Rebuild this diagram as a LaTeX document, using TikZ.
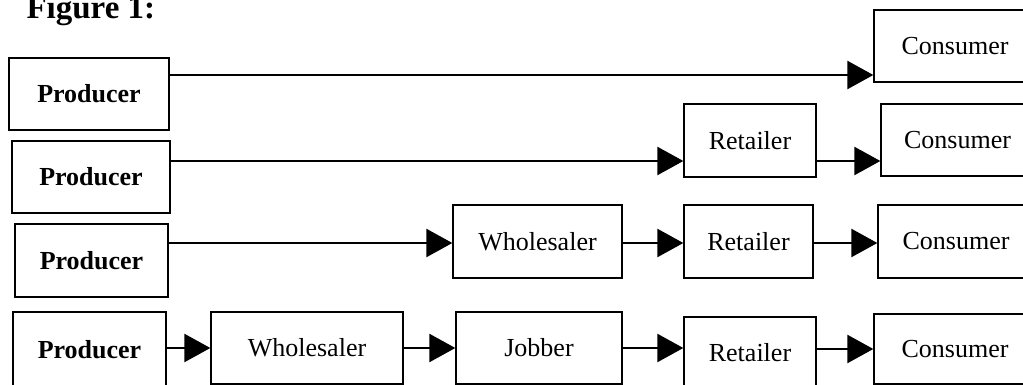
\documentclass[tikz,border=0pt]{standalone}
\usepackage{fontspec}
\setmainfont{Liberation Serif}
\usetikzlibrary{arrows.meta}
\begin{document}
\begin{tikzpicture}[x=1pt,y=-1pt,
  boxnode/.style={draw=black,line width=1.3pt,rectangle,inner sep=0pt,
    font=\fontsize{26}{30}\selectfont},
  prodnode/.style={boxnode,font=\fontsize{26}{30}\selectfont\bfseries},
  arr/.style={line width=2.4pt,-{Triangle[length=26pt,width=28pt]}}]
\useasboundingbox (0,0) rectangle (1023,385);
\node[anchor=base west,font=\fontsize{33}{38}\selectfont\bfseries] (title) at (23,19) {Figure 1:};
% row 1
\node[prodnode,minimum width=160pt,minimum height=72pt] (p1) at (89,94) {Producer};
\node[boxnode,minimum width=162pt,minimum height=72pt] (c1) at (955,46) {Consumer};
% row 2
\node[prodnode,minimum width=158pt,minimum height=72pt] (p2) at (91,177) {Producer};
\node[boxnode,minimum width=132pt,minimum height=73pt] (r2) at (750,140.5) {Retailer};
\node[boxnode,minimum width=153pt,minimum height=72pt] (c2) at (957.5,140) {Consumer};
% row 3
\node[prodnode,minimum width=153pt,minimum height=73pt] (p3) at (91.5,260.5) {Producer};
\node[boxnode,minimum width=169pt,minimum height=73pt] (w3) at (537.5,241.5) {Wholesaler};
\node[boxnode,minimum width=129pt,minimum height=73pt] (r3) at (748.5,241.5) {Retailer};
\node[boxnode,minimum width=156pt,minimum height=73pt] (c3) at (956,241.5) {Consumer};
% row 4
\node[prodnode,minimum width=153pt,minimum height=76pt] (p4) at (89.5,350) {Producer};
\node[boxnode,minimum width=192pt,minimum height=72pt] (w4) at (307,348) {Wholesaler};
\node[boxnode,minimum width=166pt,minimum height=72pt] (j4) at (539,348) {Jobber};
\node[boxnode,minimum width=132pt,minimum height=72pt] (r4) at (750,353) {Retailer};
\node[boxnode,minimum width=162pt,minimum height=70pt] (c4) at (955,349) {Consumer};
% row levels
\coordinate (y1) at (0,75);
\coordinate (y2) at (0,161);
\coordinate (y3) at (0,243);
\coordinate (y4) at (0,348);
\coordinate (y4b) at (0,349);
% connectors
\draw[arr] (p1.east |- y1) -- (c1.west |- y1);
\draw[arr] (p2.east |- y2) -- (r2.west |- y2);
\draw[arr] (r2.east |- y2) -- (c2.west |- y2);
\draw[arr] (p3.east |- y3) -- (w3.west |- y3);
\draw[arr] (w3.east |- y3) -- (r3.west |- y3);
\draw[arr] (r3.east |- y3) -- (c3.west |- y3);
\draw[arr] (p4.east |- y4) -- (w4.west |- y4);
\draw[arr] (w4.east |- y4) -- (j4.west |- y4);
\draw[arr] (j4.east |- y4) -- (r4.west |- y4);
\draw[arr] (r4.east |- y4b) -- (c4.west |- y4b);
\end{tikzpicture}
\end{document}
